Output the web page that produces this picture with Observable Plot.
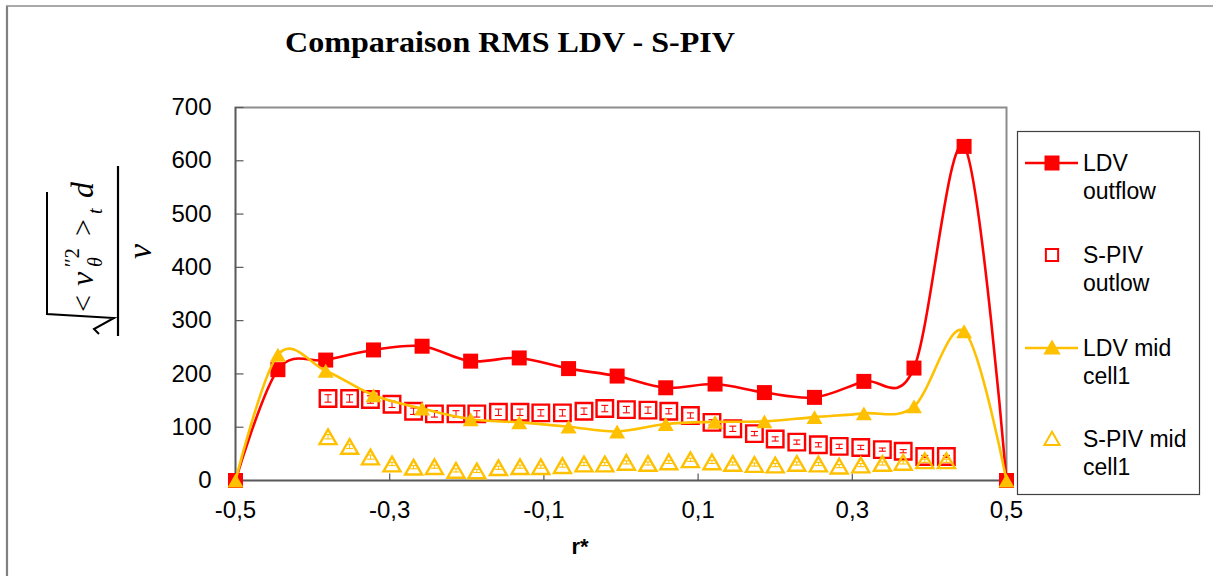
<!DOCTYPE html>
<html><head><meta charset="utf-8">
<script src="https://cdn.jsdelivr.net/npm/d3@7"></script>
<script src="https://cdn.jsdelivr.net/npm/@observablehq/plot@0.6"></script>
<style>body{margin:0;background:#fff} #chart{width:1213px;height:576px;position:relative}</style>
</head><body><div id="chart"></div>
<script>
// ---- data ----
const chartTitle = "Comparaison RMS LDV - S-PIV";
const xLabel = "r*";
const rLDV = [-0.5, -0.445, -0.383, -0.321, -0.258, -0.195, -0.132, -0.068, -0.005, 0.058, 0.122, 0.186, 0.251, 0.315, 0.380, 0.445, 0.5];
const ldvOutflow = [0, 208, 226, 245, 252, 224, 230, 210, 196, 174, 181, 165, 156, 186, 211, 627, 0];
const ldvMid = [0, 236, 206, 160, 135, 115, 109, 101, 92, 106, 110, 111, 119, 126, 139, 280, 0];
const rSPIV = [-0.380, -0.352, -0.325, -0.297, -0.269, -0.242, -0.214, -0.187, -0.159, -0.131, -0.104, -0.076, -0.048, -0.021, 0.007, 0.035, 0.062, 0.090, 0.118, 0.145, 0.173, 0.200, 0.228, 0.256, 0.283, 0.311, 0.339, 0.366, 0.394, 0.422];
const spivOutflow = [154, 154, 152, 143, 130, 125, 125, 125, 128, 128, 127, 127, 130, 135, 133, 132, 130, 122, 109, 97, 88, 78, 72, 67, 64, 62, 58, 55, 45, 45];
const spivOutflowErr = [7, 7, 7, 6, 6, 6, 6, 6, 6, 6, 6, 6, 6, 6, 6, 6, 5, 5, 5, 5, 4, 4, 4, 4, 4, 4, 3, 3, 2, 2];
const spivMid = [82, 64, 44, 31, 25, 26, 19, 18, 24, 26, 26, 28, 31, 31, 34, 32, 35, 39, 35, 32, 30, 29, 32, 31, 27, 29, 32, 34, 37, 37];
const spivMidErr = [4, 4, 4, 3, 3, 3, 3, 3, 3, 3, 3, 3, 3, 3, 3, 3, 3, 3, 3, 3, 3, 3, 3, 3, 3, 3, 3, 3, 3, 3];
const xTicks = [-0.5, -0.3, -0.1, 0.1, 0.3, 0.5];
const yTicks = [0, 100, 200, 300, 400, 500, 600, 700];
const legendLabels = [["LDV", "outflow"], ["S-PIV", "outlow"], ["LDV mid", "cell1"], ["S-PIV mid", "cell1"]];

const RED = "#FF0000", YEL = "#FFC000", AXIS = "#595959";

const ldvOut = rLDV.map((r, i) => ({r, v: ldvOutflow[i]}));
const ldvMidD = rLDV.map((r, i) => ({r, v: ldvMid[i]}));
const spivOut = rSPIV.map((r, i) => ({r, v: spivOutflow[i], e: spivOutflowErr[i]}));
const spivMidD = rSPIV.map((r, i) => ({r, v: spivMid[i], e: spivMidErr[i]}));

// custom symbols (pixel-sized)
const sq = s => ({draw(c) { c.rect(-s / 2, -s / 2, s, s); }});
const tri = w => ({draw(c) { const h = w * 0.866; c.moveTo(0, -h / 2); c.lineTo(w / 2, h / 2); c.lineTo(-w / 2, h / 2); c.closePath(); }});
const hcap = w => ({draw(c) { c.moveTo(-w / 2, 0); c.lineTo(w / 2, 0); }});
const tickRight = {draw(c) { c.moveTo(0, 0); c.lineTo(8, 0); }};
const tickUp = {draw(c) { c.moveTo(0, 0); c.lineTo(0, -7); }};

function errMarks(data, color, capW) {
  return [
    Plot.link(data, {x1: "r", x2: "r", y1: d => d.v - d.e, y2: d => d.v + d.e, stroke: color, strokeWidth: 1}),
    Plot.dot(data, {x: "r", y: d => d.v + d.e, symbol: hcap(capW), stroke: color, strokeWidth: 1.1}),
    Plot.dot(data, {x: "r", y: d => d.v - d.e, symbol: hcap(capW), stroke: color, strokeWidth: 1.1})
  ];
}

const plot = Plot.plot({
  width: 1213, height: 576,
  marginLeft: 235, marginRight: 207, marginTop: 107, marginBottom: 96,
  style: {fontFamily: "'Liberation Sans', Arial, sans-serif", background: "transparent", color: "#000"},
  x: {domain: [-0.5, 0.5]},
  y: {domain: [0, 700]},
  marks: [
    Plot.frame({stroke: "#8c8c8c", strokeWidth: 2}),
    Plot.ruleX([-0.5], {stroke: AXIS, strokeWidth: 1.5}),
    Plot.ruleY([0], {stroke: AXIS, strokeWidth: 1.5}),
    Plot.dot(yTicks, {x: d => -0.5, y: d => d, symbol: tickRight, stroke: AXIS, strokeWidth: 1.2}),
    Plot.dot(xTicks, {x: d => d, y: d => 0, symbol: tickUp, stroke: AXIS, strokeWidth: 1.2}),
    Plot.axisX({ticks: xTicks, tickSize: 0, tickPadding: 20, fontSize: 24, label: null,
      tickFormat: d => d.toFixed(1).replace(".", ",")}),
    Plot.axisY({ticks: yTicks, tickSize: 0, tickPadding: 24, fontSize: 24, label: null}),
    // LDV outflow
    Plot.line(ldvOut, {x: "r", y: "v", stroke: RED, strokeWidth: 2.6, curve: "cardinal"}),
    Plot.dot(ldvOut, {x: "r", y: "v", symbol: sq(15), fill: RED}),
    // S-PIV outflow
    Plot.dot(spivOut, {x: "r", y: "v", symbol: sq(16.5), stroke: RED, strokeWidth: 2.4, fill: "none"}),
    ...errMarks(spivOut, RED, 7),
    // LDV mid cell1
    Plot.line(ldvMidD, {x: "r", y: "v", stroke: YEL, strokeWidth: 2.6, curve: "cardinal"}),
    Plot.dot(ldvMidD, {x: "r", y: "v", symbol: tri(16), fill: YEL}),
    // S-PIV mid cell1
    Plot.dot(spivMidD, {x: "r", y: "v", symbol: tri(17), stroke: YEL, strokeWidth: 2.4, fill: "none"}),
    ...errMarks(spivMidD, YEL, 7)
  ]
});
document.getElementById("chart").appendChild(plot);

const svg = d3.select(plot);
// outer chart border
svg.append("line").attr("x1", 7).attr("y1", 6).attr("x2", 7).attr("y2", 576).attr("stroke", "#808080").attr("stroke-width", 2.2);
svg.append("line").attr("x1", 6).attr("y1", 6).attr("x2", 1213).attr("y2", 6).attr("stroke", "#8c8c8c").attr("stroke-width", 1.3);

// title
svg.append("text").attr("x", 285).attr("y", 52).attr("text-anchor", "start")
  .attr("font-family", "'Liberation Serif', 'Times New Roman', serif").attr("font-weight", "bold")
  .attr("font-size", 29).attr("textLength", 450).attr("lengthAdjust", "spacingAndGlyphs")
  .text(chartTitle);

// x label
svg.append("text").attr("x", 580).attr("y", 554).attr("text-anchor", "middle")
  .attr("font-family", "'Liberation Sans', Arial, sans-serif").attr("font-weight", "bold")
  .attr("font-size", 22).text(xLabel);

// y label (math expression, rotated)
const yl = svg.append("g").attr("transform", "translate(85,250) rotate(-90)").attr("text-anchor", "start")
  .attr("font-family", "'Liberation Serif', 'Times New Roman', serif").attr("fill", "#000");
yl.append("path").attr("d", "M -84 14 L -79 9 L -68 29 L -64 -38 L 58 -38")
  .attr("fill", "none").attr("stroke", "#000").attr("stroke-width", 2);
yl.append("line").attr("x1", -86).attr("x2", 84).attr("y1", 33).attr("y2", 33).attr("stroke", "#000").attr("stroke-width", 2.2);
const num = (t, x, y, size, italic) => yl.append("text").attr("x", x).attr("y", y).attr("font-size", size)
  .attr("font-style", italic ? "italic" : "normal").text(t);
num("<", -62, 8, 30, false);
num("v", -36, 8, 32, true);
num("\u2032\u20322", -17, -6, 20, false);
num("\u03b8", -17, 17, 20, true);
num(">", 14, 8, 30, false);
num("t", 36, 17, 20, true);
num("d", 52, 8, 32, true);
num("\u03bd", -9, 66, 34, true);

// legend
const lg = svg.append("g").attr("text-anchor", "start");
lg.append("rect").attr("x", 1017.5).attr("y", 131.5).attr("width", 182).attr("height", 363)
  .attr("fill", "#fff").attr("stroke", "#404040").attr("stroke-width", 1.2);
const legendRows = [
  {y: 163, color: RED, line: true, shape: d3.symbolSquare, filled: true},
  {y: 255, color: RED, line: false, shape: d3.symbolSquare, filled: false},
  {y: 348, color: YEL, line: true, shape: d3.symbolTriangle, filled: true},
  {y: 439, color: YEL, line: false, shape: d3.symbolTriangle, filled: false}
];
legendRows.forEach((row, i) => {
  if (row.line) lg.append("line").attr("x1", 1025).attr("x2", 1078).attr("y1", row.y).attr("y2", row.y)
    .attr("stroke", row.color).attr("stroke-width", 2.6);
  const size = row.shape === d3.symbolSquare ? (row.filled ? 225 : 150) : (row.filled ? 130 : 100);
  lg.append("path").attr("d", d3.symbol(row.shape, size)())
    .attr("transform", `translate(1052,${row.y + (row.shape === d3.symbolTriangle ? 1.5 : 0)})`)
    .attr("fill", row.filled ? row.color : "none").attr("stroke", row.filled ? "none" : row.color).attr("stroke-width", 2);
  const t = lg.append("text").attr("font-family", "'Liberation Sans', Arial, sans-serif").attr("font-size", 23).attr("fill", "#000");
  t.append("tspan").attr("x", 1083).attr("y", row.y + 8).text(legendLabels[i][0]);
  t.append("tspan").attr("x", 1083).attr("y", row.y + 35.5).text(legendLabels[i][1]);
});
</script>
</body></html>
